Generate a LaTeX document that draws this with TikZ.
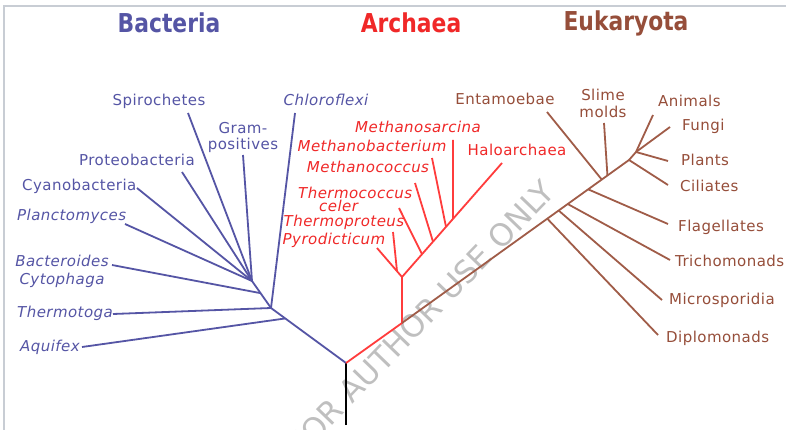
\documentclass[tikz,border=0pt]{standalone}
\usepackage{fontspec}
\usetikzlibrary{calc}
\setmainfont{DejaVu Sans}
\newfontfamily\lblfont[LetterSpace=3]{DejaVu Sans}
\newfontfamily\ttlfont[FakeStretch=0.84]{DejaVu Sans}
\definecolor{bact}{RGB}{85,85,165}
\definecolor{archl}{RGB}{255,60,60}
\definecolor{archt}{RGB}{240,40,40}
\definecolor{eukl}{RGB}{160,92,72}
\definecolor{eukt}{RGB}{150,78,58}
\definecolor{framec}{RGB}{200,205,212}
\begin{document}
\begin{tikzpicture}[x=1pt,y=-1pt,
  br/.style={line width=1.8pt},
  lbl/.style={inner sep=0pt, font=\lblfont\fontsize{15}{15}\selectfont, text height=11pt, text depth=3pt},
  ilbl/.style={lbl, font=\lblfont\itshape\fontsize{15}{15}\selectfont},
  ttl/.style={inner sep=0pt, font=\ttlfont\bfseries\fontsize{26}{26}\selectfont}]
\useasboundingbox (0,0) rectangle (786,430);
\fill[white] (0,0) rectangle (786,430);
% frame
\coordinate (f1) at (4,430); \coordinate (f2) at (4,6); \coordinate (f3) at (786,6);
\draw[framec, line width=1.2pt] (f1) -- (f2) -- (f3);
% watermark
\node[rotate=46, text=black!25, inner sep=0pt, font=\fontsize{31}{31}\selectfont] (wm) at (421,318) {FOR AUTHOR USE ONLY};
% titles
\node[ttl, text=bact] (tB) at (169,23) {Bacteria};
\node[ttl, text=archt] (tA) at (411,23) {Archaea};
\node[ttl, text=eukt] (tE) at (626,23) {Eukaryota};
% root
\coordinate (base) at (346,425);
\coordinate (root) at (346,363);
\draw[br, black] (base) -- (root);
% ---------------- Bacteria
\coordinate (b2) at (271,308);
\coordinate (b3) at (252,281);
\coordinate (b1) at ($(root)!0.81!(b2)$);
\coordinate (bj) at ($(b2)!0.55!(b3)$);
\coordinate (tAqu) at (82,347);
\coordinate (tThe) at (113,314);
\coordinate (tChl) at (295,113);
\coordinate (tBac) at (112,265);
\coordinate (tCya) at (137,188);
\coordinate (tPla) at (125,224);
\coordinate (tPro) at (182,172);
\coordinate (tSpi) at (188,113);
\coordinate (tGra) at (243,155);
\begin{scope}[bact, br]
\draw (root) -- (b2) -- (b3);
\draw (tAqu) -- (b1);
\draw (tThe) -- (b2);
\draw (tChl) -- (b2);
\draw (tBac) -- (bj);
\draw (tCya) -- (b3);
\draw (tPla) -- (b3);
\draw (tPro) -- (b3);
\draw (tSpi) -- (b3);
\draw (tGra) -- (b3);
\end{scope}
\begin{scope}[text=bact]
\node[ilbl, anchor=west] (lAqu) at (20,347) {Aquifex};
\node[ilbl, anchor=west] (lThe) at (17,313) {Thermotoga};
\node[ilbl] (lChl) at (326,102) {Chloroflexi};
\node[ilbl, align=center, text height=, text depth=, font=\lblfont\itshape\fontsize{15}{18}\selectfont] (lBac) at (62,271) {Bacteroides\\Cytophaga};
\node[lbl, anchor=west] (lCya) at (22,187) {Cyanobacteria};
\node[ilbl, anchor=west] (lPla) at (17,217) {Planctomyces};
\node[lbl] (lPro) at (137,162) {Proteobacteria};
\node[lbl] (lSpi) at (159,102) {Spirochetes};
\node[lbl, align=center, text height=, text depth=, font=\lblfont\fontsize{15}{16}\selectfont] (lGra) at (243,137) {Gram-\\positives};
\end{scope}
% ---------------- Archaea
\coordinate (a0) at (402,323);
\coordinate (a1) at (402,277);
\coordinate (tHal) at (502,163);
\coordinate (jTco) at ($(a1)!0.20!(tHal)$);
\coordinate (jMco) at ($(a1)!0.31!(tHal)$);
\coordinate (jMba) at ($(a1)!0.44!(tHal)$);
\coordinate (jMsa) at ($(a1)!0.51!(tHal)$);
\coordinate (tPyr) at (377,248);
\coordinate (jTpr) at ($(tPyr)!0.8!(a1)$);
\coordinate (tTpr) at (393,232);
\coordinate (tTco) at (399,208);
\coordinate (tMco) at (415,183);
\coordinate (tMba) at (432,158);
\coordinate (tMsa) at (453,140);
\begin{scope}[archl, br]
\draw (root) -- (a0) -- (a1) -- (tHal);
\draw (tPyr) -- (a1);
\draw (tTpr) -- (jTpr);
\draw (tTco) -- (jTco);
\draw (tMco) -- (jMco);
\draw (tMba) -- (jMba);
\draw (tMsa) -- (jMsa);
\end{scope}
\begin{scope}[text=archt]
\node[ilbl] (lMsa) at (418,129) {Methanosarcina};
\node[ilbl] (lMba) at (372,148) {Methanobacterium};
\node[ilbl] (lMco) at (368,169) {Methanococcus};
\node[ilbl, anchor=west, align=left, text height=, text depth=, font=\lblfont\itshape\fontsize{15}{13}\selectfont] (lTco) at (298,199) {Thermococcus\\\hspace*{21pt}celer};
\node[ilbl] (lTpr) at (344,222) {Thermoproteus};
\node[ilbl] (lPyr) at (334,240) {Pyrodicticum};
\node[lbl] (lHal) at (517,152) {Haloarchaea};
\end{scope}
% ---------------- Eukaryota
\coordinate (e1) at (629,160);
\coordinate (e2) at (636,152);
\coordinate (jDip) at ($(a0)!0.64!(e1)$);
\coordinate (jMic) at ($(a0)!0.69!(e1)$);
\coordinate (jTri) at ($(a0)!0.73!(e1)$);
\coordinate (jFla) at ($(a0)!0.82!(e1)$);
\coordinate (jEnt) at ($(a0)!0.88!(e1)$);
\coordinate (jSli) at ($(a0)!0.905!(e1)$);
\coordinate (tDip) at (658,335);
\coordinate (tMic) at (662,300);
\coordinate (tTri) at (670,260);
\coordinate (tFla) at (668,224);
\coordinate (tCil) at (668,185);
\coordinate (tPla2) at (668,161);
\coordinate (tFun) at (670,127);
\coordinate (tAni) at (653,115);
\coordinate (tEnt) at (547,112);
\coordinate (tSli) at (604,123);
\begin{scope}[eukl, br]
\draw (a0) -- (e1) -- (e2);
\draw (tDip) -- (jDip);
\draw (tMic) -- (jMic);
\draw (tTri) -- (jTri);
\draw (tFla) -- (jFla);
\draw (tCil) -- (e1);
\draw (tPla2) -- (e2);
\draw (tFun) -- (e2);
\draw (tAni) -- (e2);
\draw (tEnt) -- (jEnt);
\draw (tSli) -- (jSli);
\end{scope}
\begin{scope}[text=eukt]
\node[lbl] (lEnt) at (505,101) {Entamoebae};
\node[lbl, align=center, text height=, text depth=, font=\lblfont\fontsize{15}{17}\selectfont] (lSli) at (603,103) {Slime\\molds};
\node[lbl, anchor=west] (lAni) at (658,103) {Animals};
\node[lbl, anchor=west] (lFun) at (682,127) {Fungi};
\node[lbl, anchor=west] (lPla2) at (681,162) {Plants};
\node[lbl, anchor=west] (lCil) at (680,188) {Ciliates};
\node[lbl, anchor=west] (lFla) at (678,227) {Flagellates};
\node[lbl, anchor=west] (lTri) at (675,262) {Trichomonads};
\node[lbl, anchor=west] (lMic) at (669,300) {Microsporidia};
\node[lbl, anchor=west] (lDip) at (666,338) {Diplomonads};
\end{scope}
\end{tikzpicture}
\end{document}
